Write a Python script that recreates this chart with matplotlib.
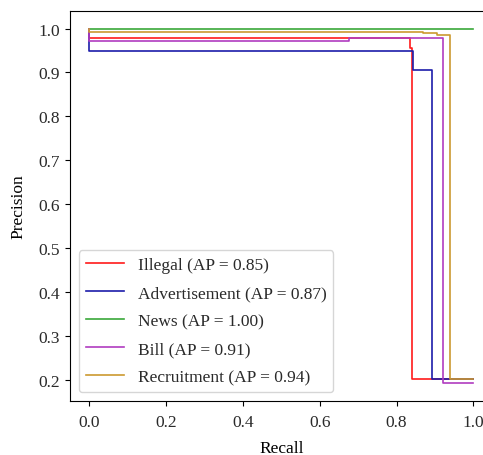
import matplotlib
matplotlib.use("Agg")
import matplotlib.pyplot as plt

plt.rcParams['font.family'] = ['Liberation Serif', 'DejaVu Serif']
plt.rcParams['font.size'] = 12.5
plt.rcParams['text.color'] = '#2a2a2a'
plt.rcParams['xtick.labelcolor'] = '#2a2a2a'
plt.rcParams['ytick.labelcolor'] = '#2a2a2a'

# precision-recall points, recall decreasing (sklearn order)
labels = ['Illegal', 'Advertisement', 'News', 'Bill', 'Recruitment']
ap = [0.85, 0.87, 1.00, 0.91, 0.94]
colors = ['#ff1a1a', '#1c1caa', '#3aa83a', '#b03cc0', '#cc9a30']

recall_illegal = [1.0, 0.839, 0.835, 0.0]
prec_illegal = [0.202, 0.955, 0.978, 1.0]

recall_adv = [1.0, 0.892, 0.843, 0.0]
prec_adv = [0.203, 0.905, 0.948, 1.0]

recall_news = [1.0, 0.0]
prec_news = [1.0, 1.0]

recall_bill = [1.0, 0.922, 0.677, 0.0]
prec_bill = [0.193, 0.978, 0.972, 1.0]

recall_recr = [1.0, 0.938, 0.905, 0.868, 0.0]
prec_recr = [0.203, 0.985, 0.990, 0.993, 1.0]

recalls = [recall_illegal, recall_adv, recall_news, recall_bill, recall_recr]
precs = [prec_illegal, prec_adv, prec_news, prec_bill, prec_recr]

fig = plt.figure(figsize=(4.83, 4.56), dpi=100)
ax = fig.add_axes([0.1449, 0.1190, 0.8750, 0.8550])

for r, p, lab, a, c in zip(recalls, precs, labels, ap, colors):
    ax.plot(r, p, drawstyle='steps-post', color=c, lw=1.2,
            label=f'{lab} (AP = {a:.2f})')

ax.set_xlabel('Recall', labelpad=7)
ax.set_ylabel('Precision', labelpad=9)
ax.set_xticks([0.0, 0.2, 0.4, 0.6, 0.8, 1.0])
ax.set_yticks([0.2, 0.3, 0.4, 0.5, 0.6, 0.7, 0.8, 0.9, 1.0])
ax.tick_params(axis='x', pad=6)
ax.legend(loc='lower left', labelspacing=0.68, handlelength=2.2)

fig.savefig('out.png', dpi=100)
